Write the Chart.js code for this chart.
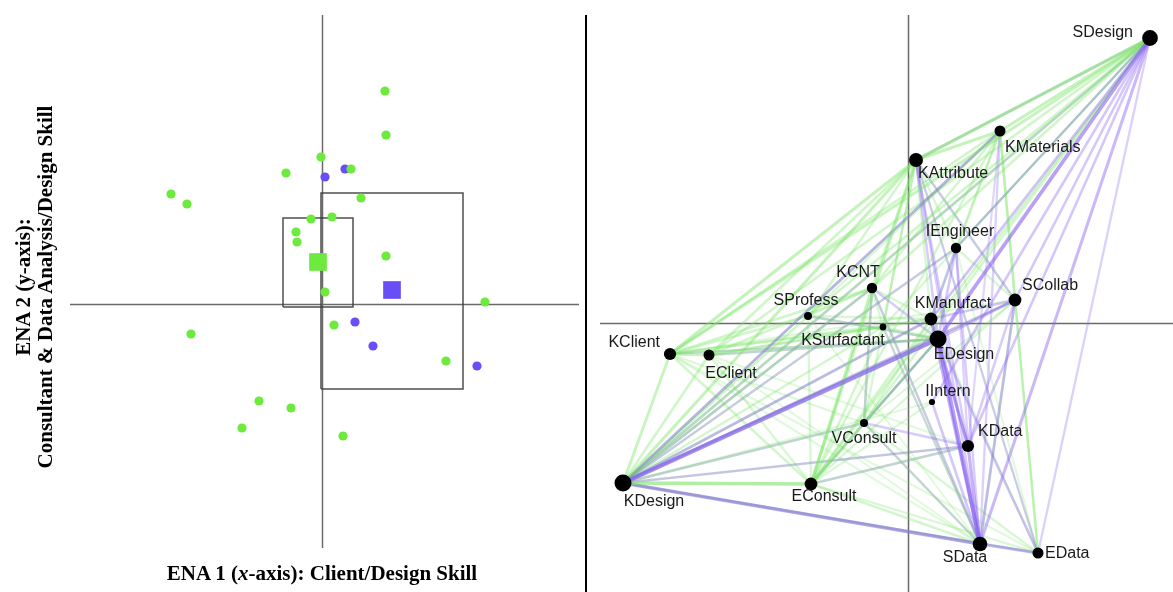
<!DOCTYPE html>
<html>
<head>
<meta charset="utf-8">
<script src="https://cdn.jsdelivr.net/npm/chart.js@4.4.0/dist/chart.umd.min.js"></script>
<style>
  html, body { margin: 0; padding: 0; background: #fff; width: 1173px; height: 592px; overflow: hidden; }
  canvas { display: block; }
  #scatter { position: absolute; left: 0; top: 0; }
  #network { position: absolute; left: 588px; top: 0; }
  #divider { position: absolute; left: 585px; top: 15px; width: 2px; height: 577px; background: #000; }
  .axisTitle { position: absolute; font-family: "Liberation Serif", "Times New Roman", serif; font-weight: bold;
               font-size: 21px; color: #000; white-space: nowrap; text-align: center; }
  #yTitle { left: -166px; top: 265px; width: 400px; height: 44px; line-height: 22px; transform: rotate(-90deg); }
  #xTitle { left: 72px; top: 561px; width: 500px; line-height: 24px; }
</style>
</head>
<body>
<canvas id="scatter" width="586" height="592" style="width:586px;height:592px"></canvas>
<div id="divider"></div>
<canvas id="network" width="585" height="592" style="width:585px;height:592px"></canvas>
<div id="yTitle" class="axisTitle">ENA 2 (y-axis):<br>Consultant &amp; Data Analysis/Design Skill</div>
<div id="xTitle" class="axisTitle">ENA 1 (<i>x</i>-axis): Client/Design Skill</div>

<script>
// ---------- ENA projected points (left) ----------
const greenX = [0.252, 0.256, -0.004, -0.144, 0.116, -0.604, -0.54, 0.156, -0.044, 0.04, -0.104,
                -0.10, 0.256, 0.012, 0.652, -0.524, 0.048, 0.496, -0.252, -0.124, -0.32, 0.084];
const greenY = [0.852, 0.676, 0.588, 0.524, 0.54, 0.44, 0.40, 0.424, 0.34, 0.348, 0.288,
                0.248, 0.192, 0.048, 0.008, -0.12, -0.084, -0.228, -0.388, -0.416, -0.496, -0.528];
const purpleX = [0.092, 0.012, 0.132, 0.204, 0.62];
const purpleY = [0.54, 0.508, -0.072, -0.168, -0.248];

// group means and confidence intervals [xMin, xMax, yMin, yMax]
const greenMean = [-0.016, 0.168];
const purpleMean = [0.28, 0.056];
const greenCI = [-0.156, 0.124, -0.012, 0.344];
const purpleCI = [-0.004, 0.564, -0.34, 0.444];

// ---------- network (right) ----------
const nodeNames = ["SDesign", "KMaterials", "KAttribute", "IEngineer", "KCNT", "SCollab", "SProfess",
                   "KManufact", "KSurfactant", "EDesign", "KClient", "EClient", "IIntern", "VConsult",
                   "KData", "KDesign", "EConsult", "SData", "EData"];
const nodeX = [0.968, 0.368, 0.032, 0.192, -0.144, 0.428, -0.40, 0.092, -0.10, 0.12, -0.952, -0.796,
               0.096, -0.176, 0.24, -1.14, -0.388, 0.288, 0.52];
const nodeY = [1.14, 0.768, 0.652, 0.30, 0.14, 0.092, 0.028, 0.016, -0.016, -0.064, -0.124, -0.128,
               -0.316, -0.40, -0.492, -0.64, -0.644, -0.884, -0.92];
const nodeWeight = [0.9, 0.5, 0.75, 0.45, 0.45, 0.65, 0.25, 0.65, 0.15, 1.0, 0.6, 0.5,
                    0.1, 0.25, 0.6, 1.0, 0.65, 0.8, 0.5];

// connection strengths of the green group
const greenEdges = [
  ["KDesign","EConsult",0.8], ["KDesign","KClient",0.5], ["KDesign","EClient",0.4], ["KDesign","KAttribute",0.55],
  ["KDesign","SDesign",0.45], ["KDesign","KCNT",0.45], ["KDesign","SProfess",0.4], ["KDesign","KMaterials",0.35],
  ["KDesign","KManufact",0.35], ["KDesign","KSurfactant",0.35], ["KDesign","VConsult",0.3], ["KDesign","EDesign",0.35],
  ["KDesign","IEngineer",0.25], ["KDesign","SCollab",0.3], ["KDesign","KData",0.25], ["KDesign","IIntern",0.2],
  ["KClient","KAttribute",0.55], ["KClient","SDesign",0.5], ["KClient","EClient",0.5], ["KClient","KCNT",0.4],
  ["KClient","SProfess",0.35], ["KClient","KMaterials",0.4], ["KClient","KManufact",0.35], ["KClient","EDesign",0.35],
  ["KClient","EConsult",0.35], ["KClient","VConsult",0.25], ["KClient","KSurfactant",0.3], ["KClient","SCollab",0.25],
  ["EClient","KAttribute",0.4], ["EClient","SDesign",0.4], ["EClient","KCNT",0.35], ["EClient","EConsult",0.3],
  ["EClient","KManufact",0.3], ["EClient","EDesign",0.3], ["EClient","KSurfactant",0.3], ["EClient","SData",0.2],
  ["EClient","KData",0.2], ["KAttribute","SDesign",0.7], ["KAttribute","KMaterials",0.55], ["KAttribute","KCNT",0.4],
  ["KAttribute","EConsult",0.5], ["KAttribute","SProfess",0.35], ["KAttribute","VConsult",0.3], ["KAttribute","KManufact",0.3],
  ["KAttribute","KSurfactant",0.3], ["KAttribute","IEngineer",0.3], ["KAttribute","SCollab",0.25], ["KMaterials","SDesign",0.55],
  ["KMaterials","SCollab",0.45], ["KMaterials","KCNT",0.35], ["KMaterials","EConsult",0.35], ["KMaterials","SProfess",0.3],
  ["KMaterials","IEngineer",0.3], ["KMaterials","KManufact",0.3], ["SDesign","SProfess",0.4], ["SDesign","KCNT",0.4],
  ["SDesign","EConsult",0.4], ["SDesign","VConsult",0.35], ["SDesign","KSurfactant",0.3], ["SDesign","IEngineer",0.3],
  ["EConsult","KCNT",0.55], ["EConsult","VConsult",0.5], ["EConsult","KManufact",0.4], ["EConsult","EDesign",0.4],
  ["EConsult","KData",0.3], ["EConsult","SData",0.35], ["EConsult","EData",0.3], ["EConsult","SCollab",0.3],
  ["EConsult","SProfess",0.3], ["EConsult","KSurfactant",0.35], ["EConsult","IIntern",0.25], ["VConsult","KCNT",0.35],
  ["VConsult","SData",0.3], ["VConsult","EData",0.3], ["VConsult","KManufact",0.3], ["VConsult","EDesign",0.3],
  ["VConsult","SCollab",0.25], ["KCNT","KManufact",0.3], ["KCNT","SProfess",0.3], ["KCNT","KSurfactant",0.3],
  ["SProfess","KManufact",0.3], ["SProfess","EDesign",0.3], ["KSurfactant","EDesign",0.3], ["KDesign","SData",0.3],
  ["KDesign","EData",0.3], ["KClient","SData",0.2], ["KClient","EData",0.2], ["SCollab","EData",0.4],
  ["SCollab","SData",0.3], ["KManufact","EData",0.25], ["IEngineer","SCollab",0.3], ["IEngineer","EData",0.2],
  ["KSurfactant","SData",0.25], ["SProfess","SData",0.2], ["KCNT","SData",0.25], ["KAttribute","EData",0.2],
  ["KMaterials","EData",0.25]
];

// connection strengths of the purple group
const purpleEdges = [
  ["KDesign","EDesign",0.95], ["KDesign","SData",0.7], ["SDesign","EDesign",0.8], ["EDesign","SData",0.85],
  ["KManufact","SData",0.6], ["KData","SData",0.6], ["SDesign","SData",0.55], ["SDesign","KData",0.4],
  ["SDesign","EData",0.3], ["SDesign","KManufact",0.45], ["SDesign","SCollab",0.4], ["SDesign","IIntern",0.4],
  ["SDesign","KAttribute",0.3], ["SDesign","IEngineer",0.35], ["SDesign","KDesign",0.3], ["KDesign","KMaterials",0.5],
  ["KDesign","KCNT",0.4], ["KDesign","KManufact",0.45], ["KDesign","KData",0.35], ["KDesign","SCollab",0.4],
  ["KDesign","IEngineer",0.3], ["KDesign","VConsult",0.3], ["SData","EData",0.5], ["EDesign","KData",0.55],
  ["EDesign","EData",0.4], ["KManufact","KData",0.45], ["IIntern","SData",0.4], ["IEngineer","KManufact",0.4],
  ["IEngineer","EDesign",0.4], ["IEngineer","SData",0.35], ["IEngineer","KData",0.3], ["SCollab","SData",0.45],
  ["SCollab","EDesign",0.45], ["SCollab","KData",0.35], ["SCollab","KManufact",0.4], ["KAttribute","SData",0.35],
  ["KAttribute","KData",0.35], ["KAttribute","EDesign",0.35], ["KAttribute","SCollab",0.3], ["KAttribute","EData",0.3],
  ["KCNT","EDesign",0.35], ["KCNT","SData",0.3], ["SProfess","EDesign",0.3], ["VConsult","EDesign",0.35],
  ["VConsult","KData",0.35], ["VConsult","SData",0.3], ["VConsult","KCNT",0.35], ["KClient","EDesign",0.25],
  ["EClient","EDesign",0.3], ["EConsult","KData",0.3], ["EConsult","EDesign",0.3], ["KMaterials","SData",0.3],
  ["KMaterials","KData",0.25], ["KSurfactant","SData",0.25], ["KDesign","EData",0.25]
];

// ---------- shared styling ----------
const GREEN = "#6cea3e";
const PURPLE = "#684ff5";
const AXIS_COLOR = "rgba(90,90,90,0.9)";

// draws the two zero lines across the plot area
const originLines = {
  id: "originLines",
  beforeDatasetsDraw(chart) {
    const { ctx, chartArea: a, scales: { x, y } } = chart;
    const px = Math.round(x.getPixelForValue(0)) + 0.5;
    const py = Math.round(y.getPixelForValue(0)) + 0.5;
    ctx.save();
    ctx.strokeStyle = AXIS_COLOR;
    ctx.lineWidth = 1.5;
    ctx.beginPath();
    ctx.moveTo(a.left, py); ctx.lineTo(a.right, py);
    ctx.moveTo(px, a.top); ctx.lineTo(px, a.bottom);
    ctx.stroke();
    ctx.restore();
  }
};

const zip = (xs, ys) => xs.map((v, i) => ({ x: v, y: ys[i] }));
const rectPath = ci => [
  { x: ci[0], y: ci[2] }, { x: ci[1], y: ci[2] }, { x: ci[1], y: ci[3] },
  { x: ci[0], y: ci[3] }, { x: ci[0], y: ci[2] }
];

const hiddenScale = (min, max) => ({ type: "linear", min, max, display: false });
const baseOptions = {
  responsive: false,
  maintainAspectRatio: false,
  devicePixelRatio: 1,
  animation: false,
  events: [],
  plugins: { legend: { display: false }, tooltip: { enabled: false } }
};

// ---------- left: projected points ----------
new Chart(document.getElementById("scatter"), {
  type: "scatter",
  data: {
    datasets: [
      { data: [{ x: greenMean[0], y: greenMean[1] }], pointStyle: "rect", pointRadius: 12.5,
        backgroundColor: GREEN, borderWidth: 0 },
      { data: [{ x: purpleMean[0], y: purpleMean[1] }], pointStyle: "rect", pointRadius: 12.5,
        backgroundColor: PURPLE, borderWidth: 0 },
      { data: zip(greenX, greenY), pointRadius: 4.6, backgroundColor: GREEN, borderWidth: 0 },
      { data: zip(purpleX, purpleY), pointRadius: 4.6, backgroundColor: PURPLE, borderWidth: 0 },
      { type: "line", data: rectPath(greenCI), showLine: true, fill: false, pointRadius: 0,
        borderColor: "rgba(60,60,60,0.9)", borderWidth: 1.5, tension: 0 },
      { type: "line", data: rectPath(purpleCI), showLine: true, fill: false, pointRadius: 0,
        borderColor: "rgba(60,60,60,0.9)", borderWidth: 1.5, tension: 0 }
    ]
  },
  options: {
    ...baseOptions,
    layout: { autoPadding: false, padding: { left: 70, right: 7, top: 15, bottom: 44 } },
    scales: { x: hiddenScale(-1.008, 1.028), y: hiddenScale(-0.976, 1.156) }
  },
  plugins: [originLines]
});

// ---------- right: network ----------
const nodeIndex = Object.fromEntries(nodeNames.map((n, i) => [n, i]));
const nodePoint = n => ({ x: nodeX[nodeIndex[n]], y: nodeY[nodeIndex[n]] });

const allEdges = [
  ...greenEdges.map(e => ({ a: e[0], b: e[1], w: e[2], rgb: "120,228,100" })),
  ...purpleEdges.map(e => ({ a: e[0], b: e[1], w: e[2], rgb: "135,95,240" }))
].sort((p, q) => q.w - p.w); // heaviest first: earlier datasets end up on top

const edgeDatasets = allEdges.map(e => ({
  type: "line",
  data: [nodePoint(e.a), nodePoint(e.b)],
  showLine: true,
  pointRadius: 0,
  borderWidth: 1.5 + 2.8 * e.w,
  borderColor: `rgba(${e.rgb},${(0.1 + 0.62 * e.w).toFixed(3)})`,
  borderCapStyle: "round"
}));

// label placement: [dx, dy, textAlign]
const labelPlacement = {
  SDesign: [-17, -5, "right"], KMaterials: [5, 17, "left"], KAttribute: [2, 14, "left"],
  IEngineer: [4, -16, "center"], KCNT: [-14, -15, "center"], SCollab: [7, -14, "left"],
  SProfess: [-2, -15, "center"], KManufact: [22, -15, "center"], KSurfactant: [-40, 14, "center"],
  EDesign: [26, 16, "center"], KClient: [-10, -11, "right"], EClient: [22, 19, "center"],
  IIntern: [16, -10, "center"], VConsult: [0, 16, "center"], KData: [10, -14, "left"],
  KDesign: [31, 19, "center"], EConsult: [13, 13, "center"], SData: [-15, 14, "center"],
  EData: [7, 1, "left"]
};

const nodeLabels = {
  id: "nodeLabels",
  afterDatasetsDraw(chart) {
    const { ctx } = chart;
    const meta = chart.getDatasetMeta(0);
    ctx.save();
    ctx.font = '16px "Liberation Sans", Arial, sans-serif';
    ctx.fillStyle = "#1a1a1a";
    ctx.textBaseline = "middle";
    meta.data.forEach((pt, i) => {
      const p = labelPlacement[nodeNames[i]];
      ctx.textAlign = p[2];
      ctx.fillText(nodeNames[i], pt.x + p[0], pt.y + p[1]);
    });
    ctx.restore();
  }
};

new Chart(document.getElementById("network"), {
  type: "scatter",
  data: {
    datasets: [
      { data: zip(nodeX, nodeY), pointRadius: nodeX.map((_, i) => 2.5 + 6 * nodeWeight[i]),
        backgroundColor: "#000", borderWidth: 0 },
      ...edgeDatasets
    ]
  },
  options: {
    ...baseOptions,
    layout: { autoPadding: false, padding: { left: 12, right: 0, top: 15, bottom: 0 } },
    scales: { x: hiddenScale(-1.232, 1.06), y: hiddenScale(-1.076, 1.232) }
  },
  plugins: [originLines, nodeLabels]
});
</script>
</body>
</html>
